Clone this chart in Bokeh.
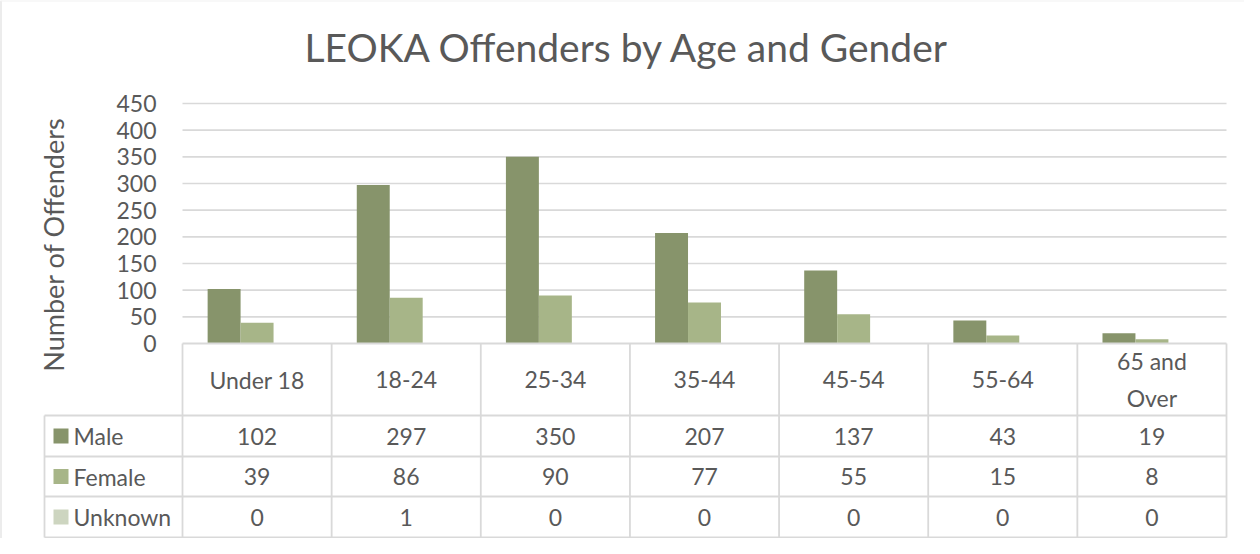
import math
from bokeh.plotting import figure
from bokeh.models import Range1d, LinearAxis, FixedTicker, ColumnDataSource
from bokeh.core.properties import value
from bokeh.embed import file_html
from bokeh.resources import INLINE

# ---------------- data ----------------
title_text = "LEOKA Offenders by Age and Gender"
y_label = "Number of Offenders"
categories = ["Under 18", "18-24", "25-34", "35-44", "45-54", "55-64", "65 and\nOver"]
series_names = ["Male", "Female", "Unknown"]
male = [102, 297, 350, 207, 137, 43, 19]
female = [39, 86, 90, 77, 55, 15, 8]
unknown = [0, 1, 0, 0, 0, 0, 0]
y_ticks = [0, 50, 100, 150, 200, 250, 300, 350, 400, 450]

# ---------------- style ----------------
FONT = "Lato"
TXT = "#595959"
GRID = "#d9d9d9"
colors = ["#87946B", "#A7B588", "#CDD5C0"]

W, H = 1244, 538
# pixel geometry of plot area (relative to figure)
PX_L, PX_R = 182.0, 1226.0          # x of category 0 left and category 7 right
PY_TOP, PY_ZERO = 103.0, 343.0      # y of 450 and of 0
ncat = len(categories)
ppu_x = (PX_R - PX_L) / ncat
ppu_y = (PY_ZERO - PY_TOP) / y_ticks[-1]

x0 = -PX_L / ppu_x
x1 = ncat + (W - PX_R) / ppu_x
y1 = y_ticks[-1] + PY_TOP / ppu_y
y0 = -(H - PY_ZERO) / ppu_y

def ypx(py):  # figure pixel y -> data y
    return (PY_ZERO - py) / ppu_y

def xpx(px):
    return (px - PX_L) / ppu_x

p = figure(width=W, height=H, output_backend="svg", toolbar_location=None,
           x_range=Range1d(x0, x1), y_range=Range1d(y0, y1),
           x_axis_type=None, y_axis_type=None, min_border=0,
           background_fill_color="white", border_fill_color="white")
p.outline_line_color = None

# row geometry of the data table (figure pixels)
row_lines_px = [343.0, 415.0, 456.0, 496.0, 537.0]
row_y = [ypx(v) for v in row_lines_px]
legend_left = xpx(44.0)

# gridlines
grid_vals = [t for t in y_ticks if t > 0]
p.segment(x0=[0] * len(grid_vals), x1=[ncat] * len(grid_vals), y0=grid_vals, y1=grid_vals,
          line_color=GRID, line_width=1.6)

# bars
bw = 0.221
offsets = [-bw, 0.0, bw]
for s, vals, col, off in zip(series_names, [male, female, unknown], colors, offsets):
    src = ColumnDataSource(dict(x=[i + 0.5 + off for i in range(ncat)], top=vals))
    p.vbar(x="x", top="top", bottom=0, width=bw, source=src, fill_color=col, line_color=None)

# table lines
p.segment(x0=[0], x1=[ncat], y0=[0], y1=[0], line_color=GRID, line_width=1.8)
for yy in row_y[1:]:
    p.segment(x0=[legend_left], x1=[ncat], y0=[yy], y1=[yy], line_color=GRID, line_width=1.8)
p.segment(x0=list(range(ncat + 1)), x1=list(range(ncat + 1)),
          y0=[0] * (ncat + 1), y1=[row_y[-1]] * (ncat + 1), line_color=GRID, line_width=1.8)
p.segment(x0=[legend_left], x1=[legend_left], y0=[row_y[1]], y1=[row_y[-1]],
          line_color=GRID, line_width=1.8)

# outer border (left / top visible in reference)
p.segment(x0=[x0], x1=[x0], y0=[y0], y1=[y1], line_color=GRID, line_width=2)
p.segment(x0=[x0], x1=[x1], y0=[y1], y1=[y1], line_color="#f2f2f2", line_width=2)

# category labels
cat_y = (row_y[0] + row_y[1]) / 2
p.text(x=[i + 0.5 for i in range(ncat)], y=[cat_y] * ncat, text=categories,
       text_font=value(FONT), text_font_size="23px", text_color=TXT,
       text_align="center", text_baseline="middle", text_line_height=1.3)

# values + legend
for r, (s, vals, col) in enumerate(zip(series_names, [male, female, unknown], colors)):
    yc = (row_y[r + 1] + row_y[r + 2]) / 2
    p.text(x=[i + 0.5 for i in range(ncat)], y=[yc] * ncat, text=[str(v) for v in vals],
           text_font=value(FONT), text_font_size="23px", text_color=TXT,
           text_align="center", text_baseline="middle")
    p.scatter(x=[xpx(60.5)], y=[yc], marker="square", size=15, fill_color=col, line_color=None)
    p.text(x=[xpx(73.0)], y=[yc], text=[s], text_font=value(FONT), text_font_size="23px",
           text_color=TXT, text_align="left", text_baseline="middle")

# y axis (fixed inside the frame at x = 0)
yaxis = LinearAxis(fixed_location=0, ticker=FixedTicker(ticks=y_ticks), bounds=(0, y_ticks[-1]))
yaxis.axis_line_color = None
yaxis.major_tick_line_color = None
yaxis.minor_tick_line_color = None
yaxis.major_tick_in = 0
yaxis.major_tick_out = 0
yaxis.major_label_standoff = 26
yaxis.major_label_text_font = FONT
yaxis.major_label_text_font_size = "23px"
yaxis.major_label_text_color = TXT
p.add_layout(yaxis, "left")

# axis title
p.text(x=[xpx(53.0)], y=[ypx(244.0)], text=[y_label], angle=math.pi / 2,
       text_font=value(FONT), text_font_size="27px", text_color=TXT,
       text_align="center", text_baseline="middle")

# chart title
p.text(x=[xpx(627.0)], y=[ypx(46.0)], text=[title_text],
       text_font=value(FONT), text_font_size="39px", text_color=TXT,
       text_align="center", text_baseline="middle")

open("out.html", "w").write(file_html(p, INLINE))
